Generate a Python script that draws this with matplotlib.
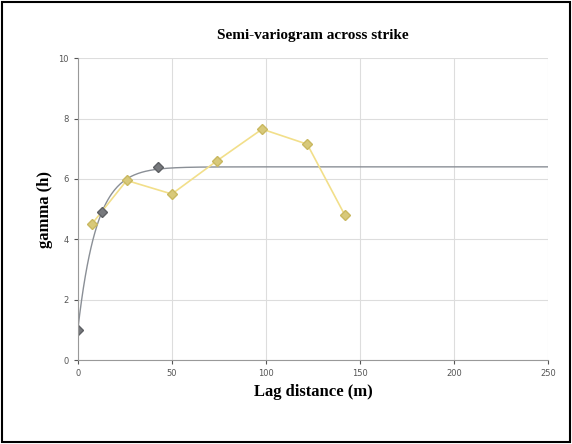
import matplotlib.pyplot as plt
import numpy as np

# experimental semi-variogram
lag = [7.4, 26, 50, 74, 98, 122, 142]
gamma = [4.5, 5.95, 5.5, 6.6, 7.65, 7.15, 4.8]

# model points (exponential model)
model_lag = [0, 13, 42.5]
model_gamma = [1.0, 4.9, 6.4]
nugget, sill, rng = 1.0, 6.4, 30.0

fig = plt.figure(figsize=(5.72, 4.44), dpi=100)
fig.patches.append(plt.Rectangle((0.004, 0.004), 0.992, 0.992, transform=fig.transFigure,
                                 fill=False, edgecolor='black', linewidth=1.5))
ax = fig.add_axes([0.136, 0.189, 0.822, 0.68])

h = np.linspace(0, 250, 500)
ax.plot(h, nugget + (sill - nugget) * (1 - np.exp(-3 * h / rng)), color='#8a8f96', linewidth=1)
ax.plot(lag, gamma, color='#f2df8a', linewidth=1.2, marker='D', markersize=5,
        markerfacecolor='#d8c97a', markeredgecolor='#c9b860')
ax.plot(model_lag, model_gamma, linestyle='none', marker='D', markersize=5,
        markerfacecolor='#77797d', markeredgecolor='#5d5f63')

ax.set_xlim(0, 250)
ax.set_ylim(0, 10)
ax.set_xticks([0, 50, 100, 150, 200, 250])
ax.set_yticks([0, 2, 4, 6, 8, 10])
ax.grid(True, color='#dddddd', linewidth=0.8)
ax.tick_params(labelsize=6, colors='#555555', length=3)
for s in ['top', 'right']:
    ax.spines[s].set_visible(False)
for s in ['left', 'bottom']:
    ax.spines[s].set_color('#999999')

ax.set_title('Semi-variogram across strike', fontfamily='Liberation Serif',
             fontweight='bold', fontsize=11, pad=14)
ax.set_xlabel('Lag distance (m)', fontfamily='Liberation Serif', fontweight='bold', fontsize=12)
ax.set_ylabel('gamma (h)', fontfamily='Liberation Serif', fontweight='bold', fontsize=12)

fig.savefig('out.png', dpi=100)
